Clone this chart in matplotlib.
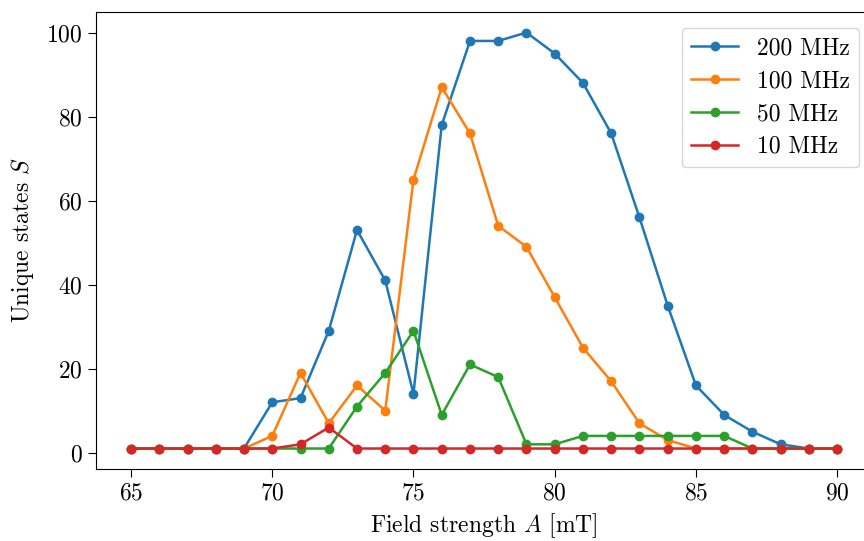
import numpy as np
import matplotlib
matplotlib.use('Agg')
from matplotlib import pyplot as plt

plt.rcParams['font.family'] = 'serif'
plt.rcParams['font.serif'] = ['cmr10']
plt.rcParams['mathtext.fontset'] = 'cm'
plt.rcParams['axes.formatter.use_mathtext'] = True
plt.rcParams['font.size'] = 17
plt.rcParams['xtick.major.size'] = 6
plt.rcParams['ytick.major.size'] = 6

field = np.arange(65, 91)  # mT

s_200 = [1, 1, 1, 1, 1, 12, 13, 29, 53, 41, 14, 78, 98, 98, 100, 95, 88, 76, 56, 35, 16, 9, 5, 2, 1, 1]
s_100 = [1, 1, 1, 1, 1, 4, 19, 7, 16, 10, 65, 87, 76, 54, 49, 37, 25, 17, 7, 3, 1, 1, 1, 1, 1, 1]
s_50 = [1, 1, 1, 1, 1, 1, 1, 1, 11, 19, 29, 9, 21, 18, 2, 2, 4, 4, 4, 4, 4, 4, 1, 1, 1, 1]
s_10 = [1, 1, 1, 1, 1, 1, 2, 6, 1, 1, 1, 1, 1, 1, 1, 1, 1, 1, 1, 1, 1, 1, 1, 1, 1, 1]

series = [(s_200, '200 MHz'), (s_100, '100 MHz'), (s_50, '50 MHz'), (s_10, '10 MHz')]

fig = plt.figure(figsize=(8.64, 5.41), dpi=100)
# axes run a little past the right edge, like the cropped original
ax = fig.add_axes([0.1108, 0.1325, 0.899, 0.8458])

for vals, lab in series:
    ax.plot(field, vals, 'o-', markersize=6, linewidth=1.8, label=lab)

ax.set_xticks([65, 70, 75, 80, 85, 90])
ax.set_yticks([0, 20, 40, 60, 80, 100])
ax.set_xlabel('Field strength $A$ [mT]', labelpad=5)
ax.set_ylabel('Unique states $S$', labelpad=7)
ax.legend(loc='upper right', bbox_to_anchor=(0.9985, 0.99), labelspacing=0.45)

fig.savefig('out.png', dpi=100)
